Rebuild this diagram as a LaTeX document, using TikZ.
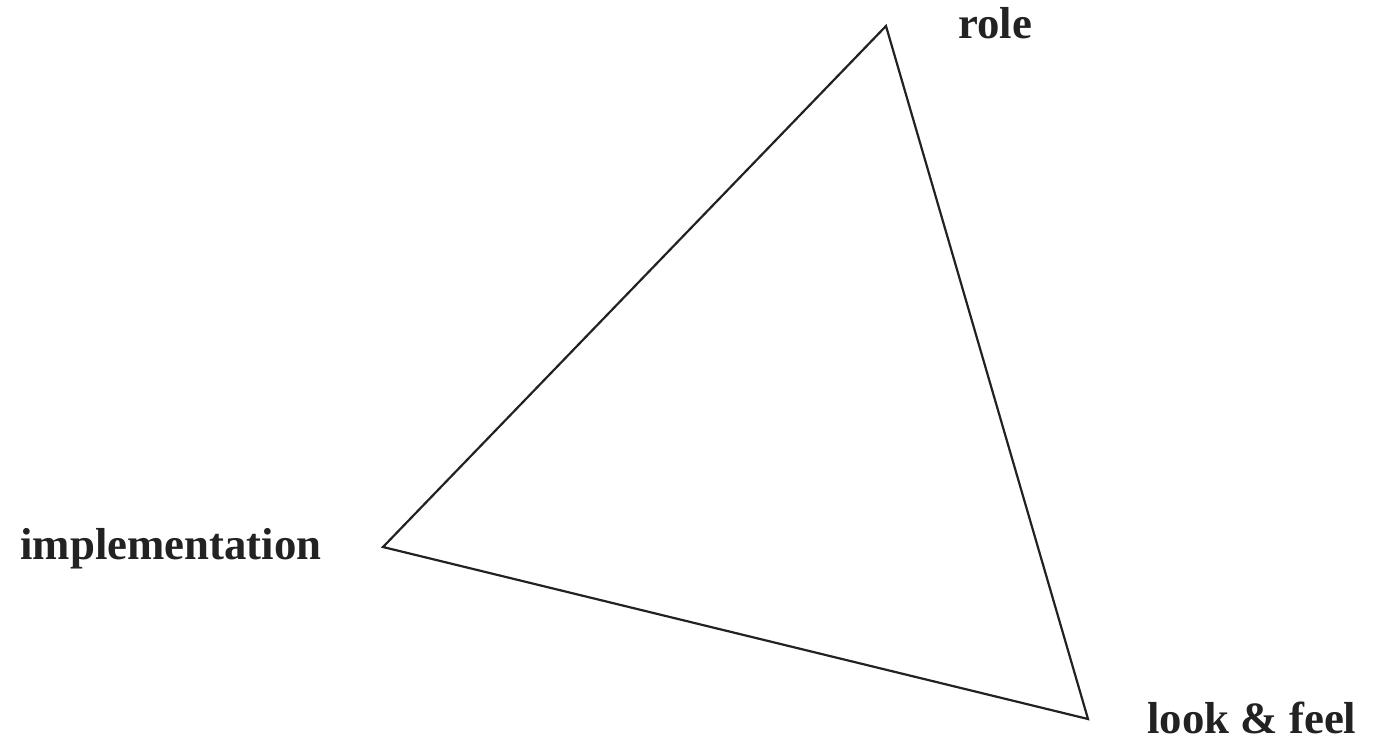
\documentclass[tikz,border=0pt]{standalone}
\usepackage{fontspec}
\setmainfont{Liberation Serif}
\definecolor{ink}{HTML}{222222}
\begin{document}
\begin{tikzpicture}[x=0.5pt,y=-0.5pt,
  lbl/.style={inner sep=0pt, anchor=base west, text=ink, font=\fontsize{22.4pt}{26pt}\selectfont\bfseries},
  edge/.style={draw=ink, line width=1.1pt, line join=miter}]
\useasboundingbox (0,0) rectangle (1376,740);
\coordinate (top) at (886,26);
\coordinate (left) at (383,547);
\coordinate (right) at (1088,719);
\draw[edge] (top) -- (left) -- (right) -- cycle;
\node[lbl] (role) at (958,38) {role};
\node[lbl] (impl) at (20,559) {implementation};
\node[lbl, text depth=0pt] (lf) at (1147,733) {look \& feel};
\end{tikzpicture}
\end{document}
